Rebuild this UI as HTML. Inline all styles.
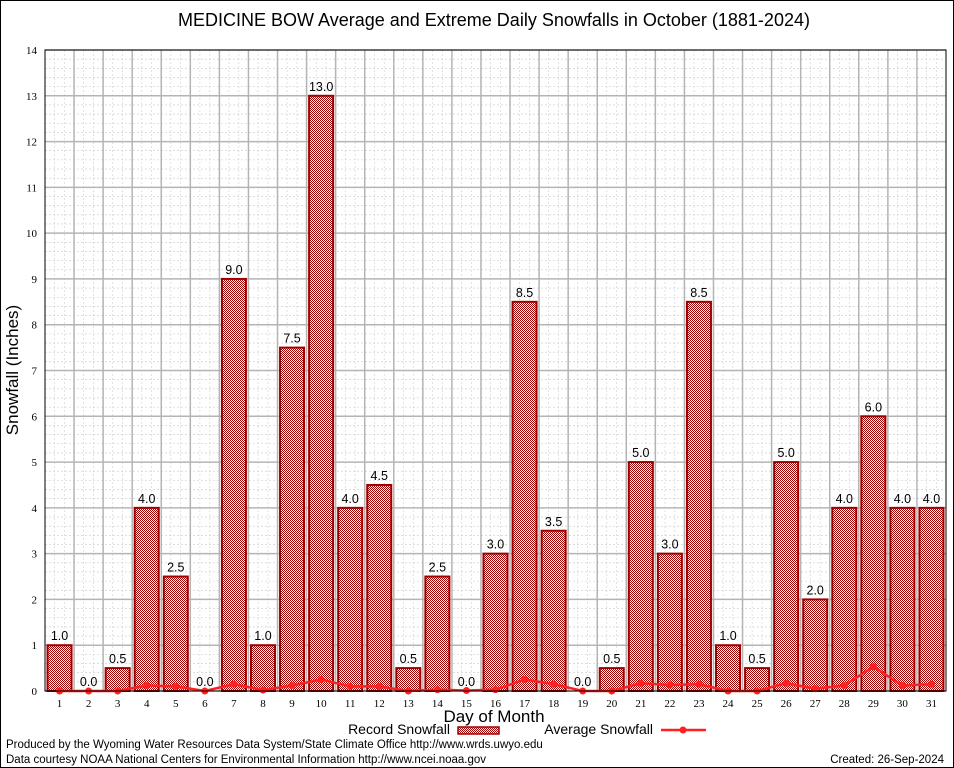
<!DOCTYPE html>
<html><head><meta charset="utf-8"><style>
html,body{margin:0;padding:0;background:#fff}
svg{display:block}
text{font-family:"Liberation Sans",sans-serif}
.serif{font-family:"Liberation Serif",serif}
</style></head><body>
<svg id="chart" width="954" height="768" xmlns="http://www.w3.org/2000/svg">
<defs>
<pattern id="chk" width="2" height="2" patternUnits="userSpaceOnUse">
<rect width="2" height="2" fill="#fff"/><rect width="1" height="1" fill="#a00000"/><rect x="1" y="1" width="1" height="1" fill="#a00000"/>
</pattern>
</defs>
<rect x="0.5" y="0.5" width="953" height="767" fill="#fff" stroke="#000"/>
<text x="494" y="26" font-size="18" text-anchor="middle">MEDICINE BOW Average and Extreme Daily Snowfalls in October (1881-2024)</text>
<g id="grid"></g>
<g id="bars"></g>
<g id="avg"></g>
<g id="axes"></g>
<text x="18" y="370" font-size="17" text-anchor="middle" transform="rotate(-90 18 370)">Snowfall (Inches)</text>
<text x="494" y="722" font-size="17" text-anchor="middle">Day of Month</text>
<g>
<text x="450" y="734" font-size="14" text-anchor="end">Record Snowfall</text>
<rect x="458" y="727" width="41" height="7" fill="url(#chk)" stroke="#a00000" stroke-width="1.5"/>
<text x="653" y="734" font-size="14" text-anchor="end">Average Snowfall</text>
<line x1="661" y1="730" x2="706" y2="730" stroke="#ff2020" stroke-width="2.5"/>
<circle cx="683" cy="730" r="3.5" fill="#ff2020"/>
</g>
<text x="6" y="748" font-size="11.5">Produced by the Wyoming Water Resources Data System/State Climate Office http://www.wrds.uwyo.edu</text>
<text x="6" y="763" font-size="11.5">Data courtesy NOAA National Centers for Environmental Information http://www.ncei.noaa.gov</text>
<text x="944" y="763" font-size="11.5" text-anchor="end">Created: 26-Sep-2024</text>
</svg>
<script>
const days=[1,2,3,4,5,6,7,8,9,10,11,12,13,14,15,16,17,18,19,20,21,22,23,24,25,26,27,28,29,30,31];
const records=[1.0,0.0,0.5,4.0,2.5,0.0,9.0,1.0,7.5,13.0,4.0,4.5,0.5,2.5,0.0,3.0,8.5,3.5,0.0,0.5,5.0,3.0,8.5,1.0,0.5,5.0,2.0,4.0,6.0,4.0,4.0];
const averages=[0.0,0.0,0.0,0.12,0.1,0.0,0.15,0.02,0.12,0.25,0.1,0.1,0.0,0.03,0.01,0.03,0.25,0.15,0.0,0.0,0.17,0.13,0.15,0.0,0.0,0.17,0.05,0.12,0.53,0.12,0.15];
const yTicks=[0,1,2,3,4,5,6,7,8,9,10,11,12,13,14];
const L=45,R=946,T=50,B=691,yMax=14;
const NS="http://www.w3.org/2000/svg";
const slot=(R-L)/days.length;
const x=d=>L+(d-0.5)*slot;
const y=v=>B-(v/yMax)*(B-T);
function mk(tag,attrs,parent,txt){const e=document.createElementNS(NS,tag);for(const k in attrs)e.setAttribute(k,attrs[k]);if(txt!==undefined)e.textContent=txt;parent.appendChild(e);return e;}
const grid=document.getElementById('grid'),bars=document.getElementById('bars'),avg=document.getElementById('avg'),axes=document.getElementById('axes');
for(let v=0.2;v<yMax;v+=0.2){if(Math.abs(v-Math.round(v))<0.01)continue;const l=mk('line',{x1:L,x2:R,y1:y(v),y2:y(v),stroke:'#c8c8c8','stroke-width':0.6,'stroke-dasharray':'2,2'},grid);

}
for(let i=0;i<days.length;i++){for(const f of [0.33,0.67]){const xx=L+(i+f)*slot;const l=mk('line',{x1:xx,x2:xx,y1:T,y2:B,stroke:'#d0d0d0','stroke-width':0.6,'stroke-dasharray':'2,2'},grid);

}}
yTicks.forEach(v=>{const l=mk('line',{x1:L,x2:R,y1:y(v),y2:y(v),stroke:'#b4b4b4','stroke-width':1.5},grid);


const t=mk('text',{x:L-8,y:y(v)+4,'font-size':11,'text-anchor':'end',class:'serif'},axes,String(v));

});
for(let i=1;i<days.length;i++){const xx=L+i*slot;const l=mk('line',{x1:xx,x2:xx,y1:T,y2:B,stroke:'#b4b4b4','stroke-width':1.5},grid);

}
days.forEach((d,i)=>{const v=records[i];const bw=24;
if(v>0){const r=mk('rect',{x:x(d)-bw/2,y:y(v),width:bw,height:B-y(v),fill:'url(#chk)',stroke:'#a00000','stroke-width':2},bars);

}
const t=mk('text',{x:x(d),y:y(v)-5,'font-size':12.5,'text-anchor':'middle'},bars,v.toFixed(1));


const tl=mk('text',{x:x(d),y:B+16,'font-size':11,'text-anchor':'middle',class:'serif'},axes,String(d));

});
const p=mk('polyline',{points:days.map((d,i)=>x(d)+','+y(averages[i])).join(' '),fill:'none',stroke:'#ff2020','stroke-width':2.5},avg);


days.forEach((d,i)=>{const c=mk('circle',{cx:x(d),cy:y(averages[i]),r:3.5,fill:'#ff2020'},avg);

});
const f=mk('rect',{x:L,y:T,width:R-L,height:B-T,fill:'none',stroke:'#000','stroke-width':1},axes);


</script>
</body></html>
